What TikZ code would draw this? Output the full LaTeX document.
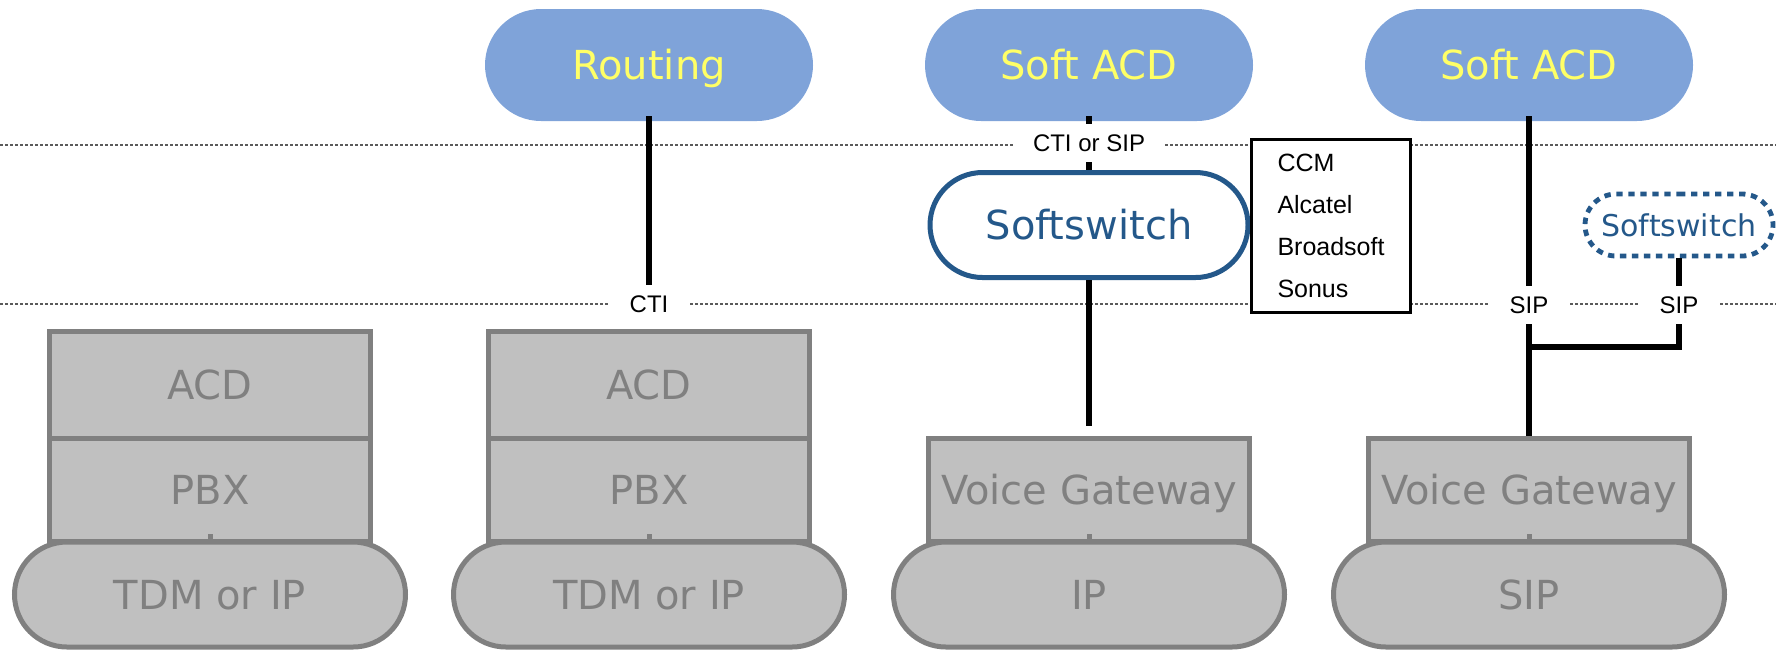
\documentclass[tikz,border=0pt]{standalone}
\usepackage{fontspec}
\setmainfont{DejaVu Sans}
\newfontfamily\labelfont{Liberation Sans}
\usetikzlibrary{shapes.misc}
\usetikzlibrary{calc}
\definecolor{pillblue}{RGB}{127,163,217}
\definecolor{pilltext}{RGB}{255,255,102}
\definecolor{switchblue}{RGB}{36,88,138}
\definecolor{boxgray}{RGB}{192,192,192}
\definecolor{edgegray}{RGB}{128,128,128}
\definecolor{rulegray}{RGB}{90,90,90}

\tikzset{
  bigtext/.style={font=\fontsize{20}{24}\selectfont, text height=14.6pt, text depth=0pt, inner sep=0pt},
  app/.style={rounded rectangle, bigtext, fill=pillblue, text=pilltext, minimum width=164pt, minimum height=56pt},
  softsw/.style={rounded rectangle, bigtext, draw=switchblue, line width=2.5pt, fill=white, text=switchblue, minimum width=159pt, minimum height=52.5pt},
  optsw/.style={rounded rectangle, draw=switchblue, line width=2.4pt, dash pattern=on 3.2pt off 2.8pt, fill=white, text=switchblue, font=\fontsize{15}{18}\selectfont, text height=11pt, text depth=0pt, inner sep=0pt, minimum width=94pt, minimum height=31pt},
  layer/.style={rectangle, bigtext, draw=edgegray, fill=boxgray, text=edgegray, line width=2.5pt, minimum width=160.5pt},
  net/.style={rounded rectangle, bigtext, draw=edgegray, fill=boxgray, text=edgegray, line width=2.5pt, minimum width=195.5pt, minimum height=52.5pt},
  link/.style={line width=2.6pt},
  stub/.style={edgegray, line width=2.5pt},
  tier/.style={rulegray, line width=0.7pt, dash pattern=on 1.5pt off 1pt},
  proto/.style={fill=white, font=\labelfont\fontsize{12}{14}\selectfont, inner xsep=10pt, inner ysep=5pt, text height=8.6pt, text depth=0pt},
  vendors/.style={draw, line width=1.5pt, fill=white, align=left, font=\labelfont\fontsize{12.5}{21}\selectfont, minimum width=79.5pt, minimum height=86.5pt}
}

\begin{document}
\begin{tikzpicture}[x=0.5pt,y=0.5pt,yscale=-1,xscale=1]
\useasboundingbox (0,0) rectangle (1776,650);

%Dotted tier rules
\draw [tier] (0,145) -- (1776,145) ;
\draw [tier] (0,304) -- (1776,304) ;

%Top applications
\node [app] (routing) at (649,65) {Routing};
\node [app] (softacdA) at (1089,65) {Soft ACD};
\node [app] (softacdB) at (1529,65) {Soft ACD};

%Softswitches
\node [softsw] (switchA) at (1089,225) {Softswitch};
\node [optsw] (switchB) at (1679,225) {Softswitch};

%Stack 1
\node [net] (tdmA) at (210,594.5) {TDM or IP};
\node [layer, minimum height=53.25pt] (acdA) at (210,384.75) {ACD};
\node [layer, minimum height=51.75pt] (pbxA) at (210,489.75) {PBX};
%Stack 2
\node [net] (tdmB) at (649,594.5) {TDM or IP};
\node [layer, minimum height=53.25pt] (acdB) at (649,384.75) {ACD};
\node [layer, minimum height=51.75pt] (pbxB) at (649,489.75) {PBX};
%Stack 3
\node [net] (ipA) at (1089,594.5) {IP};
\node [layer, minimum height=51.5pt] (gwA) at (1089,490) {Voice Gateway};
%Stack 4
\node [net] (sipA) at (1529,594.5) {SIP};
\node [layer, minimum height=51.5pt] (gwB) at (1529,490) {Voice Gateway};

%Small marks left in the lower boxes
\draw [stub] ($(pbxA.south)+(0,-5)$) -- ++(0,-5) ;
\draw [stub] ($(pbxB.south)+(0,-5)$) -- ++(0,-5) ;
\draw [stub] ($(gwA.south)+(0,-5)$) -- ++(0,-5) ;
\draw [stub] ($(gwB.south)+(0,-5)$) -- ++(0,-5) ;

%Connectors
\coordinate (tee) at (1679,347);
\draw [link] ($(routing.south)+(0,-5)$) -- (649,288) ;
\draw [link] ($(softacdA.south)+(0,-5)$) -- (switchA.north) ;
\draw [link] (switchA.south) -- ($(gwA.north)+(0,-10)$) ;
\draw [link] ($(softacdB.south)+(0,-5)$) -- (gwB.north) ;
\draw [link] (switchB.south) -- (tee) -- (tee -| gwB.north) ;

% Text Node
\node [proto] (cti) at (649,304) {CTI};
\node [proto] (ctisip) at (1089,143) {CTI or SIP};
\node [proto] (sipL) at (1529,305) {SIP};
\node [proto] (sipR) at (1679,305) {SIP};

% Vendor list
\node [vendors] (vendorlist) at (1331,226) {CCM\\Alcatel\\Broadsoft\\Sonus};

\end{tikzpicture}
\end{document}
